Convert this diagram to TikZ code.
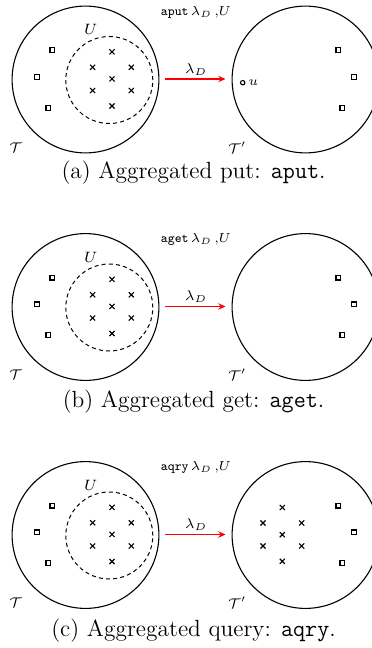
\RequirePackage{fix-cm}
\documentclass[tikz,border=0pt]{standalone}
\usepackage{fontspec}
\usetikzlibrary{shapes.misc,arrows.meta}
\tikzset{
  big/.style={circle,draw,line width=0.55pt,minimum size=73.4pt,inner sep=0pt},
  dcirc/.style={circle,draw,line width=0.5pt,dash pattern=on 2pt off 1.6pt,minimum size=43.5pt,inner sep=0pt},
  sq/.style={rectangle,draw,line width=0.6pt,minimum size=2.4pt,inner sep=0pt},
  xm/.style={cross out,draw,line width=0.55pt,minimum size=2pt,inner sep=0pt},
  pnt/.style={circle,draw,line width=0.55pt,minimum size=2.2pt,inner sep=0pt},
  lab/.style={inner sep=0pt,font=\fontsize{7}{8}\selectfont},
  toplab/.style={inner sep=0pt,font=\fontsize{6.5}{8}\selectfont},
  captext/.style={inner sep=0pt,font=\fontsize{11.7}{14}\selectfont},
  redarrow/.style={draw=red,line width=0.6pt,-{Stealth[length=3.6pt,width=3.2pt]}}
}
\newcommand\leftside[2]{%
  \node[big] (#1T) at (85.5,{#2}) {};
  \node[dcirc] (#1U) at (109.3,{#2+0.5}) {};
  \node[lab,font=\fontsize{7.5}{8}\selectfont] (#1Ulab) at (90.7,{#2-50}) {$U$};
  \node[xm] (#1x1) at (112,{#2-27.7}) {};
  \node[xm] (#1x2) at (92.6,{#2-12.2}) {};
  \node[xm] (#1x3) at (131.3,{#2-12.2}) {};
  \node[xm] (#1x4) at (112,{#2-0.6}) {};
  \node[xm] (#1x5) at (92.6,{#2+11}) {};
  \node[xm] (#1x6) at (131.3,{#2+11}) {};
  \node[xm] (#1x7) at (112,{#2+26.5}) {};
  \node[sq] (#1s1) at (52.3,{#2-29.5}) {};
  \node[sq] (#1s2) at (36.7,{#2-2.6}) {};
  \node[sq] (#1s3) at (48.3,{#2+28.2}) {};
  \node[lab] (#1Tlab) at (15.7,{#2+68}) {$\mathcal{T}$};
  \node[big] (#1R) at (305.5,{#2}) {};
  \node[sq] (#1r1) at (338.3,{#2-29.5}) {};
  \node[sq] (#1r2) at (353.8,{#2-2.6}) {};
  \node[sq] (#1r3) at (342.3,{#2+28.2}) {};
  \node[lab] (#1Rlab) at (237.3,{#2+68}) {$\mathcal{T}'$};
  \coordinate (#1a1) at (165,{#2-0.5});
  \coordinate (#1a2) at (225.5,{#2-0.5});
  \draw[redarrow] (#1a1) -- (#1a2);
  \node[lab] (#1lam) at (196,{#2-10}) {$\lambda_D$};
}
\begin{document}
\begin{tikzpicture}[x=0.5pt,y=-0.5pt]
\useasboundingbox (0,0) rectangle (371,648);
% panel (a)
\leftside{a}{79.5}
\node[toplab] (atop) at (196,12) {\texttt{aput}\,$\lambda_D\,$,$U$};
\node[pnt] (au) at (242.7,82.7) {};
\node[lab,font=\fontsize{6.5}{8}\selectfont] (aulab) at (253.3,82.7) {$u$};
\node[captext] (acap) at (193.5,173) {(a) Aggregated put: \texttt{aput}.};
% panel (b)
\leftside{b}{307}
\node[toplab] (btop) at (196,239) {\texttt{aget}\,$\lambda_D\,$,$U$};
\node[captext] (bcap) at (193.5,402) {(b) Aggregated get: \texttt{aget}.};
% panel (c)
\leftside{c}{535}
\node[toplab] (ctop) at (196,467) {\texttt{aqry}\,$\lambda_D\,$,$U$};
\node[xm] (cy1) at (282.3,507.5) {};
\node[xm] (cy2) at (263,523) {};
\node[xm] (cy3) at (301.7,523) {};
\node[xm] (cy4) at (282.3,534.7) {};
\node[xm] (cy5) at (263,546) {};
\node[xm] (cy6) at (301.7,546) {};
\node[xm] (cy7) at (282.3,561.3) {};
\node[captext] (ccap) at (193.5,631) {(c) Aggregated query: \texttt{aqry}.};
\end{tikzpicture}
\end{document}
